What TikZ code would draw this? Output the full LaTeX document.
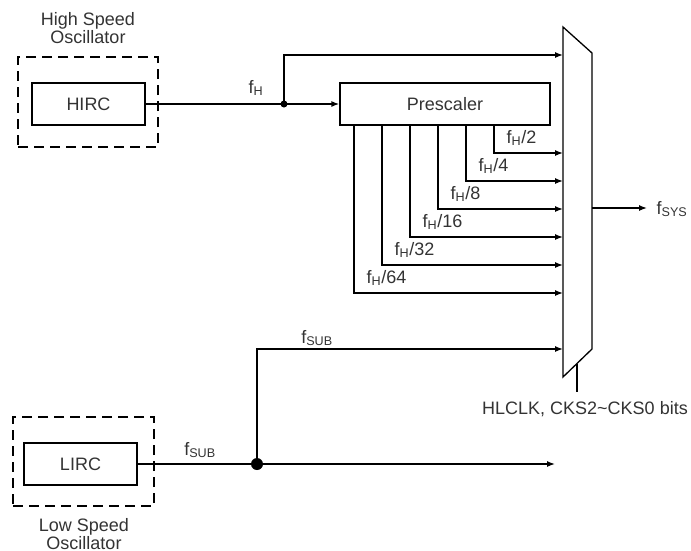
\documentclass[tikz,border=0pt]{standalone}
\usepackage{fontspec}
\setmainfont{Liberation Sans}
\usetikzlibrary{arrows.meta}
\newcommand{\fq}[1]{f\textsubscript{#1}}
\begin{document}
\begin{tikzpicture}[x=1pt,y=-1pt,line width=1.3pt,
  txt/.style={font=\fontsize{18}{17.5}\selectfont, text=black!80, inner sep=0pt},
  blk/.style={draw, rectangle, inner sep=0pt, font=\fontsize{18}{17.5}\selectfont, text=black!80},
  dashbox/.style={draw, rectangle, dash pattern=on 10pt off 6pt, inner sep=0pt},
  sig/.style={-{Latex[length=8pt,width=6pt]}},
  dot/.style={circle, fill, inner sep=0pt}]
\useasboundingbox (0,0) rectangle (691,550);
% high speed oscillator
\node[dashbox, minimum width=140pt, minimum height=90pt] (hso) at (88,102) {};
\node[blk, minimum width=113pt, minimum height=42pt] (hirc) at (88.5,104) {HIRC};
\node[txt, align=center] (hsolbl) at (88,28) {High Speed\\Oscillator};
% low speed oscillator
\node[dashbox, minimum width=141pt, minimum height=89pt] (lso) at (83.5,461.5) {};
\node[blk, minimum width=113pt, minimum height=42pt] (lirc) at (80.5,464) {LIRC};
\node[txt, align=center] (lsolbl) at (84,534) {Low Speed\\Oscillator};
% prescaler
\node[blk, minimum width=210pt, minimum height=42pt] (pre) at (445,104) {Prescaler};
% mux
\draw (563,27) -- (592,53) -- (592,349) -- (563,377) -- cycle;
\coordinate (m0) at (563,55);
\coordinate (m2) at (563,153);
\coordinate (m4) at (563,181);
\coordinate (m8) at (563,209);
\coordinate (m16) at (563,237);
\coordinate (m32) at (563,265);
\coordinate (m64) at (563,293);
\coordinate (msub) at (563,349);
\coordinate (mout) at (592,208);
\coordinate (sys) at (647,208);
\coordinate (selt) at (577,363.5);
\coordinate (selb) at (577,392);
% junctions
\node[dot, minimum size=7pt] (jh) at (284,104) {};
\node[dot, minimum size=12pt] (jl) at (257,464) {};
% high speed paths
\draw (hirc.east) -- (jh.center);
\draw[sig] (jh.center) -- (pre.west);
\draw[sig] (jh.center) |- (m0);
\node[txt] (lfh) at (256,88) {\fq{H}};
% prescaler outputs
\coordinate (p2) at (494,125);
\coordinate (p4) at (466,125);
\coordinate (p8) at (438,125);
\coordinate (p16) at (410,125);
\coordinate (p32) at (382,125);
\coordinate (p64) at (354,125);
\draw[sig] (p2) |- (m2);
\draw[sig] (p4) |- (m4);
\draw[sig] (p8) |- (m8);
\draw[sig] (p16) |- (m16);
\draw[sig] (p32) |- (m32);
\draw[sig] (p64) |- (m64);
\node[txt, anchor=west] (l2) at (506,138) {\fq{H}/2};
\node[txt, anchor=west] (l4) at (478,166) {\fq{H}/4};
\node[txt, anchor=west] (l8) at (450,194) {\fq{H}/8};
\node[txt, anchor=west] (l16) at (422,222) {\fq{H}/16};
\node[txt, anchor=west] (l32) at (394,250) {\fq{H}/32};
\node[txt, anchor=west] (l64) at (366,278) {\fq{H}/64};
% output
\draw[sig] (mout) -- (sys);
\node[txt, anchor=west] (lsys) at (656,209) {\fq{SYS}};
% select
\draw (selt) -- (selb);
\node[txt] (lsel) at (585,409) {HLCLK, CKS2\textasciitilde CKS0 bits};
% low speed paths
\coordinate (lend) at (555,464);
\draw (lirc.east) -- (jl.center);
\draw[sig] (jl.center) -- (lend);
\draw[sig] (jl.center) |- (msub);
\node[txt] (lsub1) at (317,338) {\fq{SUB}};
\node[txt] (lsub2) at (200,450) {\fq{SUB}};
\end{tikzpicture}
\end{document}
